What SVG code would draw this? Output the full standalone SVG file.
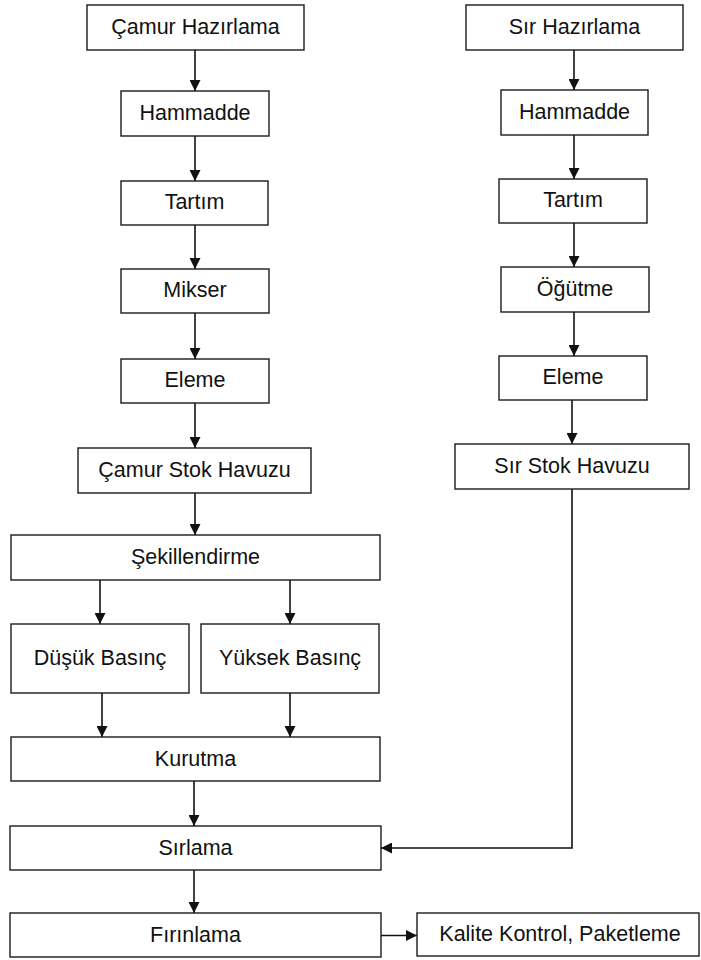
<svg xmlns="http://www.w3.org/2000/svg" width="701" height="960" viewBox="0 0 701 960">
<style>
.box{fill:#fff;stroke:#1a1a1a;stroke-width:1.4}
.t{font-family:"Liberation Sans",Arial,sans-serif;font-size:21.5px;fill:#111;text-anchor:middle}
.c{fill:none;stroke:#111;stroke-width:1.6}
</style>
<defs>
<marker id="ah" viewBox="0 0 11 11" refX="11" refY="5.5" markerWidth="11" markerHeight="11" markerUnits="userSpaceOnUse" orient="auto">
<path d="M0,0 L11,5.5 L0,11 z" fill="#111"/>
</marker>
</defs>
<rect width="701" height="960" fill="#fff"/>
<g id="connectors">
<line class="c" x1="195" y1="50" x2="195" y2="91" marker-end="url(#ah)"/>
<line class="c" x1="195" y1="136" x2="195" y2="181" marker-end="url(#ah)"/>
<line class="c" x1="195" y1="225" x2="195" y2="269" marker-end="url(#ah)"/>
<line class="c" x1="195" y1="313" x2="195" y2="359" marker-end="url(#ah)"/>
<line class="c" x1="195" y1="403" x2="195" y2="448" marker-end="url(#ah)"/>
<line class="c" x1="195" y1="493" x2="195" y2="535" marker-end="url(#ah)"/>
<line class="c" x1="100" y1="580" x2="100" y2="624" marker-end="url(#ah)"/>
<line class="c" x1="290" y1="580" x2="290" y2="624" marker-end="url(#ah)"/>
<line class="c" x1="102" y1="693" x2="102" y2="737" marker-end="url(#ah)"/>
<line class="c" x1="290" y1="693" x2="290" y2="737" marker-end="url(#ah)"/>
<line class="c" x1="194" y1="781" x2="194" y2="826" marker-end="url(#ah)"/>
<line class="c" x1="194" y1="870" x2="194" y2="913" marker-end="url(#ah)"/>
<line class="c" x1="381" y1="935.5" x2="417" y2="935.5" marker-end="url(#ah)"/>
<line class="c" x1="574" y1="50" x2="574" y2="90" marker-end="url(#ah)"/>
<line class="c" x1="574" y1="135" x2="574" y2="179" marker-end="url(#ah)"/>
<line class="c" x1="574" y1="223" x2="574" y2="267" marker-end="url(#ah)"/>
<line class="c" x1="574" y1="312" x2="574" y2="356" marker-end="url(#ah)"/>
<line class="c" x1="572" y1="400" x2="572" y2="444" marker-end="url(#ah)"/>
<polyline class="c" points="572,489 572,848 381,848" marker-end="url(#ah)"/>
</g>
<g id="camur-hazirlama"><rect class="box" x="87" y="5" width="217" height="45"/><text class="t" x="195.5" y="33.5">Çamur Hazırlama</text></g>
<g id="hammadde-1"><rect class="box" x="121" y="91" width="148" height="45"/><text class="t" x="195" y="119.5">Hammadde</text></g>
<g id="tartim-1"><rect class="box" x="121" y="181" width="147" height="44"/><text class="t" x="194.5" y="209">Tartım</text></g>
<g id="mikser"><rect class="box" x="121" y="269" width="148" height="44"/><text class="t" x="195" y="297">Mikser</text></g>
<g id="eleme-1"><rect class="box" x="121" y="359" width="148" height="44"/><text class="t" x="195" y="387">Eleme</text></g>
<g id="camur-stok"><rect class="box" x="78" y="448" width="233" height="45"/><text class="t" x="194.5" y="476.5">Çamur Stok Havuzu</text></g>
<g id="sekillendirme"><rect class="box" x="11" y="535" width="369" height="45"/><text class="t" x="195.5" y="563.5">Şekillendirme</text></g>
<g id="dusuk-basinc"><rect class="box" x="11" y="624" width="178" height="69"/><text class="t" x="100" y="664.5">Düşük Basınç</text></g>
<g id="yuksek-basinc"><rect class="box" x="201" y="624" width="178" height="69"/><text class="t" x="290" y="664.5">Yüksek Basınç</text></g>
<g id="kurutma"><rect class="box" x="11" y="737" width="369" height="44"/><text class="t" x="195.5" y="765.5">Kurutma</text></g>
<g id="sirlama"><rect class="box" x="10" y="826" width="371" height="44"/><text class="t" x="195.5" y="854.5">Sırlama</text></g>
<g id="firinlama"><rect class="box" x="10" y="913" width="371" height="44"/><text class="t" x="195.5" y="941.5">Fırınlama</text></g>
<g id="kalite-kontrol"><rect class="box" x="417" y="913" width="282" height="43"/><text class="t" x="560" y="941">Kalite Kontrol, Paketleme</text></g>
<g id="sir-hazirlama"><rect class="box" x="466" y="5" width="217" height="45"/><text class="t" x="574.5" y="33.5">Sır Hazırlama</text></g>
<g id="hammadde-2"><rect class="box" x="501" y="90" width="147" height="45"/><text class="t" x="574.5" y="118.5">Hammadde</text></g>
<g id="tartim-2"><rect class="box" x="499" y="179" width="148" height="44"/><text class="t" x="573" y="207">Tartım</text></g>
<g id="ogutme"><rect class="box" x="501" y="267" width="148" height="45"/><text class="t" x="575" y="295.5">Öğütme</text></g>
<g id="eleme-2"><rect class="box" x="499" y="356" width="148" height="44"/><text class="t" x="573" y="384">Eleme</text></g>
<g id="sir-stok"><rect class="box" x="455" y="444" width="234" height="45"/><text class="t" x="572" y="472.5">Sır Stok Havuzu</text></g>
</svg>
